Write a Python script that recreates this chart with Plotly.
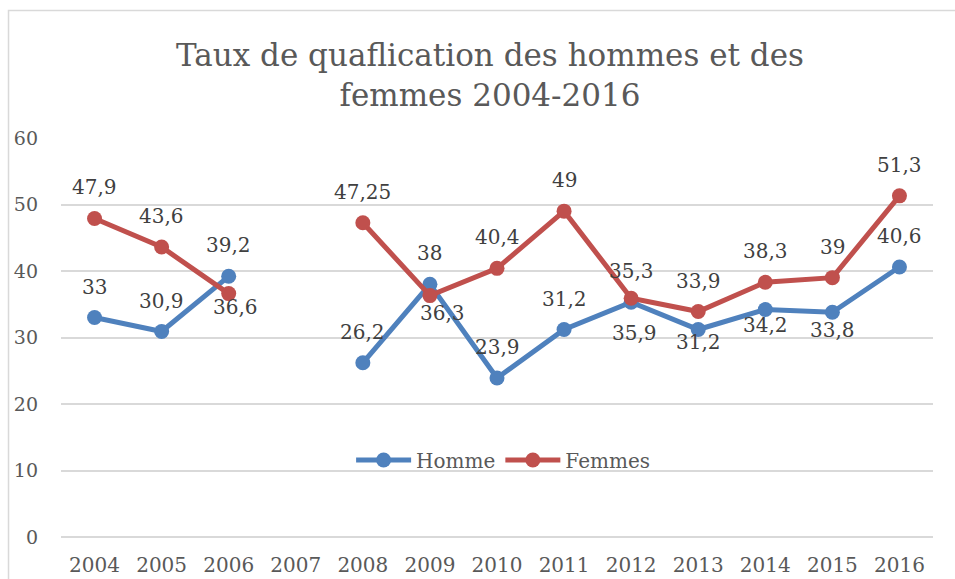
import plotly.graph_objects as go

years = ["2004", "2005", "2006", "2007", "2008", "2009", "2010",
         "2011", "2012", "2013", "2014", "2015", "2016"]
homme = [33, 30.9, 39.2, None, 26.2, 38, 23.9, 31.2, 35.3, 31.2, 34.2, 33.8, 40.6]
femmes = [47.9, 43.6, 36.6, None, 47.25, 36.3, 40.4, 49, 35.9, 33.9, 38.3, 39, 51.3]

# label offsets (pixels, positive = above the point)
homme_shift = [31, 31, 31, 0, 31, 31, 31, 31, 31, -12, -15, -18, 31]
femmes_shift = [31, 31, -13, 0, 31, -17, 31, 31, -35, 31, 31, 31, 31]
femmes_xshift = [0, 0, 7, 0, 0, 13, 0, 0, 3, 0, 0, 0, 0]

BLUE = "#4f81bd"
RED = "#c0504d"
FONT = "DejaVu Serif"

fig = go.Figure()
fig.add_trace(go.Scatter(x=years, y=homme, name="Homme", mode="lines+markers",
                         line=dict(color=BLUE, width=5),
                         marker=dict(color=BLUE, size=15), connectgaps=False))
fig.add_trace(go.Scatter(x=years, y=femmes, name="Femmes", mode="lines+markers",
                         line=dict(color=RED, width=5),
                         marker=dict(color=RED, size=15), connectgaps=False))

def fmt(v):
    return ("%g" % v).replace(".", ",")

annotations = []
for vals, ys, xs in ((homme, homme_shift, [0] * len(years)),
                     (femmes, femmes_shift, femmes_xshift)):
    for i, (v, s, xsft) in enumerate(zip(vals, ys, xs)):
        if v is None:
            continue
        annotations.append(dict(x=i, y=v, xref="x", yref="y", text=fmt(v),
                                showarrow=False, yshift=s, xshift=xsft,
                                font=dict(family=FONT, size=20, color="#404040")))

annotations.append(dict(x=0.492, y=1.257, xref="paper", yref="paper",
                        xanchor="center", yanchor="top", showarrow=False,
                        text="Taux de quaflication des hommes et des<br>femmes 2004-2016",
                        font=dict(family=FONT, size=31, color="#595959")))

fig.update_layout(
    width=955, height=579,
    margin=dict(l=61, r=22, t=138, b=42, autoexpand=False),
    paper_bgcolor="white", plot_bgcolor="white",
    annotations=annotations,
    showlegend=True,
    legend=dict(orientation="h", x=0.507, xanchor="center", y=0.193, yanchor="middle",
                font=dict(family=FONT, size=20, color="#595959"),
                bgcolor="rgba(0,0,0,0)", itemwidth=55),
    xaxis=dict(type="category", range=[-0.5, 12.5], showgrid=False,
               showline=False, zeroline=False, ticks="", automargin=False,
               ticklabelstandoff=14,
               tickfont=dict(family=FONT, size=20, color="#595959")),
    yaxis=dict(range=[0, 60], dtick=10, showgrid=True, gridcolor="#d9d9d9",
               gridwidth=1.5, zeroline=True, zerolinecolor="#d9d9d9",
               zerolinewidth=1.5, showline=False, ticks="", automargin=False,
               ticklabelstandoff=22,
               tickfont=dict(family=FONT, size=19, color="#595959")),
    shapes=[dict(type="rect", xref="paper", yref="paper",
                 x0=-0.0602, x1=1.2, y0=-0.3, y1=1.3195,
                 line=dict(color="#d9d9d9", width=1.5), fillcolor="rgba(0,0,0,0)",
                 layer="below")],
)

fig.write_html("out.html", config={"displayModeBar": False},
               post_script="document.body.style.margin='0';document.body.style.overflow='hidden';")
